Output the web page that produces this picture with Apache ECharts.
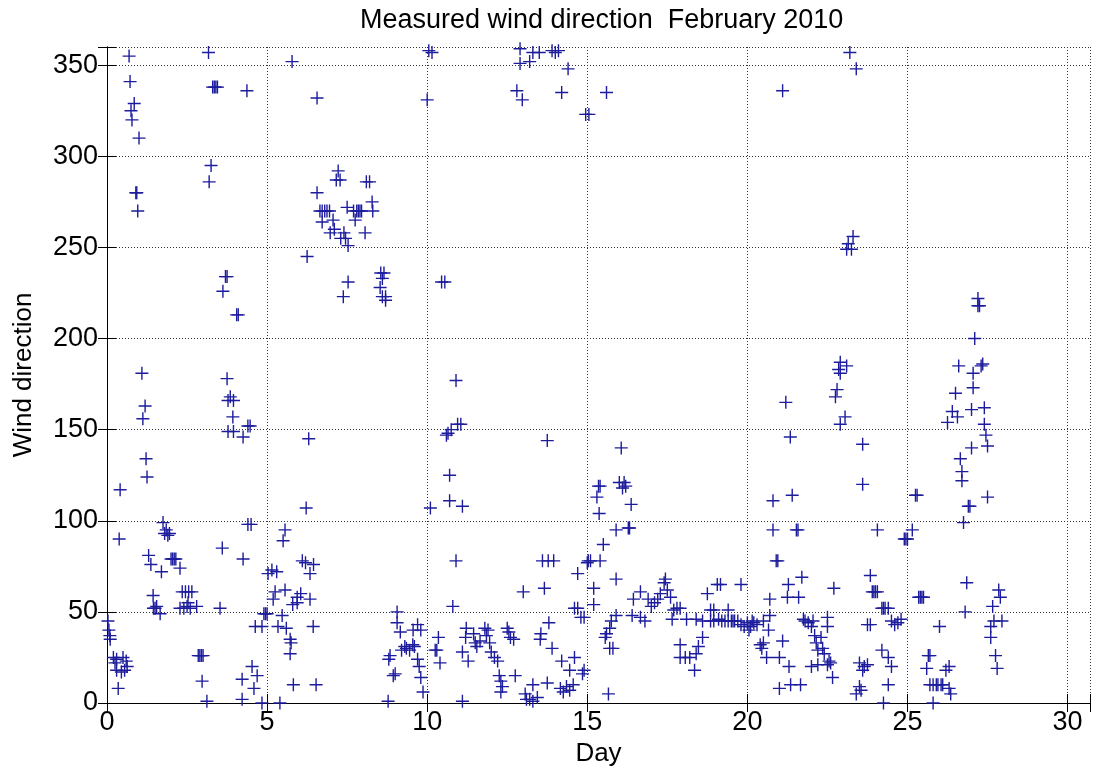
<!DOCTYPE html>
<html>
<head>
<meta charset="utf-8">
<script src="https://cdn.jsdelivr.net/npm/echarts@6/dist/echarts.min.js"></script>
<style>
html,body{margin:0;padding:0;background:#fff;}
#chart{width:1095px;height:772px;}
</style>
</head>
<body>
<div id="chart"></div>
<script>
// ---- Data (day of month, wind direction in degrees) ----
const week1Day = [0.03,0.06,0.09,0.1,0.2,0.25,0.3,0.35,0.3,0.45,0.55,0.6,0.63,0.5,0.38,0.41,0.69,0.72,0.75,0.78,0.85,0.9,0.93,0.96,1.0,1.09,1.12,1.19,1.22,1.25,1.3,1.37,1.44,1.45,1.5,1.55,1.66,1.7,1.75,1.8,1.85,1.9,1.95,2.0,2.05,2.1,2.15,2.28,2.28,2.35,2.45,2.55,2.65,2.4,2.5,2.53,2.6,2.8,2.85,2.9,2.95,3.0,2.97,3.12,3.17,3.19,3.25,3.3,3.35,3.4,3.45,3.53,3.6,3.62,3.7,3.75,3.75,3.78,3.85,3.93,3.95,3.78,3.95,4.05,4.1,4.22,4.22,4.25,4.25,4.37,4.4,4.47,4.4,4.5,4.53,4.59,4.63,4.69,4.84,4.84,4.9,4.95,5.0,5.03,5.15,5.3,5.19,5.25,5.4,5.34,5.47,5.5,5.56,5.56,5.6,5.72,5.75,5.72,5.78,5.8,5.82,5.94,5.94,6.05,6.1,6.2,6.22,6.3,6.34,6.34,6.45,6.44,6.53,6.25,6.56,6.56,6.65,6.72,6.8,6.87,6.95,6.72,6.97];
const week1Dir = [45,40,37,35,25,22,24,8,18,17,18,23,20,25,90,117,355,341,325,320,329,280,280,270,310,181,156,163,134,124,81,76,59,52,52,53,49,72,99,93,95,92,93,79,79,79,79,74,52,61,61,61,61,52,53,55,52,53,26,26,26,26,12,1,357,286,295,338,338,338,338,52,85,226,234,234,178,166,168,157,166,149,149,213,213,13,2,146,79,336,152,152,98,98,20,8,42,15,42,0,49,49,49,71,73,72,57,61,0,42,48,89,95,62,41,35,33,27,352,54,10,55,58,60,78,77,107,145,71,57,76,42,10,245,332,280,270,270,270,270,270,264,258];

const week2Day = [7.06,7.1,7.16,7.22,7.28,7.3,7.38,7.4,7.45,7.5,7.53,7.53,7.7,7.75,7.8,7.85,7.9,7.95,8.06,8.1,8.2,8.28,8.3,8.53,8.55,8.6,8.65,8.6,8.7,8.7,8.78,8.8,8.84,8.94,9.0,9.06,9.06,9.16,9.2,9.3,9.35,9.45,9.55,9.6,9.56,9.7,9.8,9.7,9.75,9.8,9.87,10.0,10.05,10.1,10.15,10.25,10.3,10.35,10.4,10.45,10.55,10.6,10.65,10.7,10.7,10.75,10.8,10.9,10.9,10.95,11.05,11.1,11.1,11.2,11.22,11.28,11.1,11.45,11.5,11.55,11.65,11.8,11.85,11.9,11.95,12.0,12.1,12.2,12.25,12.3,12.35,12.3,12.5,12.55,12.6,12.7,12.75,12.8,12.9,12.9,12.97,13.0,13.06,13.1,13.2,13.3,13.44,13.2,13.3,13.5,13.3,13.53,13.55,13.6,13.66,13.75,13.75,13.8,13.78,13.9,13.95,13.9,14.0];
const week2Dir = [265,260,287,292,287,255,223,258,255,272,251,231,270,265,270,270,270,270,258,286,286,275,270,228,236,233,236,223,221,223,1,24,26,15,16,50,44,39,29,31,30,29,32,31,40,43,40,24,20,14,6,331,358,107,357,29,29,36,22,231,231,147,148,125,111,150,53,78,177,153,153,108,1,36,41,23,28,38,33,31,34,41,37,40,33,28,25,23,15,12,9,6,41,39,36,35,15,336,351,359,331,61,5,2,2,1,3,352,357,357,10,35,38,78,63,144,11,44,78,30,78,358,357];

const week3Day = [14.1,14.16,14.25,14.35,14.45,14.56,14.2,14.2,14.4,14.45,14.6,14.7,14.7,14.6,14.85,14.8,14.9,14.95,15.0,15.05,14.9,15.03,15.1,15.2,15.2,15.3,15.35,15.4,15.37,15.4,15.5,15.56,15.6,15.6,15.66,15.7,15.75,15.7,15.8,15.9,15.9,15.9,16.0,16.06,16.1,16.2,16.15,16.28,16.32,16.37,16.4,16.44,16.66,16.66,16.8,16.9,17.0,17.1,17.2,17.28,17.4,17.44,17.5,17.6,17.65,17.7,17.8,17.9,17.9,17.9,18.06,18.1,18.2,18.35,18.4,18.4,18.47,18.6,18.6,18.75,18.85,18.95,18.85,18.95,19.06,19.16,19.1,19.2,19.3,19.4,19.4,19.5,19.55,19.6,19.7,19.8,19.8,19.9,20.0,20.05,20.1,20.15,20.2,20.3,20.4,20.45,20.5,20.5,20.6,20.66,20.7,20.7,20.8,20.8,20.9,20.95,21.0,21.0];
const week3Dir = [358,8,6,9,7,10,335,23,348,18,52,52,71,25,16,47,47,323,77,323,18,78,78,63,54,113,119,119,104,78,87,36,38,335,5,41,45,30,30,48,68,95,121,140,118,119,121,96,96,109,48,57,61,47,45,57,53,55,57,60,66,68,62,58,46,51,52,52,25,32,25,46,25,18,27,46,31,36,45,60,51,51,45,45,65,65,46,45,45,51,45,45,45,45,45,65,43,42,44,40,42,45,44,43,32,30,33,45,25,40,48,57,111,95,78,78,25,8];

const week4Day = [21.1,21.1,21.2,21.25,21.28,21.3,21.34,21.35,21.4,21.53,21.58,21.6,21.66,21.7,21.75,21.8,21.9,22.0,22.05,22.1,22.15,22.2,22.0,22.2,22.5,22.3,22.35,22.4,22.5,22.5,22.55,22.6,22.66,22.7,22.75,22.8,22.85,22.9,22.9,22.9,23.05,23.1,23.1,23.15,23.2,23.25,23.3,23.4,23.4,23.5,23.55,23.5,23.6,23.65,23.75,23.6,23.6,23.75,23.84,23.84,23.9,23.95,24.0,24.06,24.06,24.2,24.25,24.3,24.4,24.2,24.25,24.4,24.4,24.5,24.5,24.6,24.7,24.8,24.9,24.95,25.0,25.15,25.25,25.3,25.35,25.4,25.45,25.5,25.6,25.65,25.7,25.7,25.8,25.8,25.9,25.95,26.0,26.05,26.1,26.2,26.25,26.3,26.3,26.35,26.4,26.5,26.56,26.6,26.65,26.7,26.7,26.75,26.8,26.85,26.9,26.95,27.0,27.0,27.05,27.05,27.1,27.2,27.2,27.25,27.3,27.35,27.4,27.4,27.45,27.5,27.5,27.6,27.6,27.66,27.7,27.75,27.8,27.85,27.9,27.95];
const week4Dir = [34,336,165,58,65,20,146,10,114,95,95,58,10,69,46,45,44,42,45,37,33,29,20,21,21,36,30,27,47,42,23,22,14,63,168,172,183,181,187,153,157,185,249,252,357,249,256,348,5,9,7,22,18,20,21,142,120,43,43,70,61,61,61,61,95,52,52,52,52,29,0,25,10,20,45,43,44,46,90,90,90,95,114,114,58,58,58,58,19,26,26,10,10,0,10,10,42,10,10,18,154,20,8,5,160,170,157,185,134,127,122,99,50,66,108,108,140,161,173,181,200,222,218,218,185,186,162,153,147,141,113,36,42,53,45,26,19,62,58,45];

const xTicks = [0, 5, 10, 15, 20, 25, 30];
const yTicks = [0, 50, 100, 150, 200, 250, 300, 350];

const titleText = 'Measured wind direction  February 2010';
const xName = 'Day';
const yName = 'Wind direction';

// ---- Build chart ----
const days = [].concat(week1Day, week2Day, week3Day, week4Day);
const dirs = [].concat(week1Dir, week2Dir, week3Dir, week4Dir);
const points = days.map((d, i) => [d, dirs[i]]);

const FONT = 'Liberation Sans, Arial, sans-serif';
const X_MAX = 30.7, Y_MAX = 360;
const gridLine = { show: true, lineStyle: { color: '#333', width: 1, type: [1, 2] } };
const blackLine = { show: true, lineStyle: { color: '#000', width: 1 } };
const inTick = { show: true, inside: true, length: 9, lineStyle: { color: '#000', width: 1 } };

const chart = echarts.init(document.getElementById('chart'), null, { renderer: 'canvas' });
chart.setOption({
  animation: false,
  backgroundColor: '#fff',
  title: {
    text: titleText,
    left: 360,
    top: 0,
    padding: [7, 0, 0, 0],
    textStyle: { fontFamily: FONT, fontSize: 27, fontWeight: 'normal', color: '#000' }
  },
  grid: { left: 107, right: 5, top: 47, bottom: 69, containLabel: false, outerBoundsMode: 'none' },
  xAxis: [{
    type: 'value', position: 'bottom', min: 0, max: X_MAX, interval: 5,
    axisLine: blackLine, axisTick: inTick, splitLine: gridLine,
    axisLabel: {
      margin: 6, fontFamily: FONT, fontSize: 27, color: '#000',
      formatter: v => (xTicks.indexOf(v) >= 0 ? String(v) : '')
    },
    name: xName, nameLocation: 'middle', nameGap: 34,
    nameTextStyle: { fontFamily: FONT, fontSize: 26, color: '#000' }
  }, {
    type: 'value', position: 'top', min: 0, max: X_MAX, interval: 5,
    axisLine: blackLine, axisTick: inTick, splitLine: { show: false }, axisLabel: { show: false }
  }],
  yAxis: [{
    type: 'value', position: 'left', min: 0, max: Y_MAX, interval: 50,
    axisLine: blackLine, axisTick: inTick, splitLine: gridLine,
    axisLabel: {
      margin: 9, fontFamily: FONT, fontSize: 27, color: '#000',
      formatter: v => (yTicks.indexOf(v) >= 0 ? String(v) : '')
    },
    name: yName, nameLocation: 'middle', nameGap: 70, nameRotate: 90,
    nameTextStyle: { fontFamily: FONT, fontSize: 26, color: '#000' }
  }, {
    type: 'value', position: 'right', min: 0, max: Y_MAX, interval: 50,
    axisLine: blackLine, axisTick: inTick, splitLine: { show: false }, axisLabel: { show: false }
  }],
  series: [{
    type: 'scatter',
    xAxisIndex: 0, yAxisIndex: 0,
    data: points,
    symbol: 'path://M5,0L5,10M0,5L10,5',
    symbolSize: 13,
    itemStyle: { color: 'rgba(0,0,0,0)', borderColor: '#1c1c9c', borderWidth: 1.4, opacity: 1 },
    emphasis: { disabled: true },
    silent: true
  }]
});
</script>
</body>
</html>
